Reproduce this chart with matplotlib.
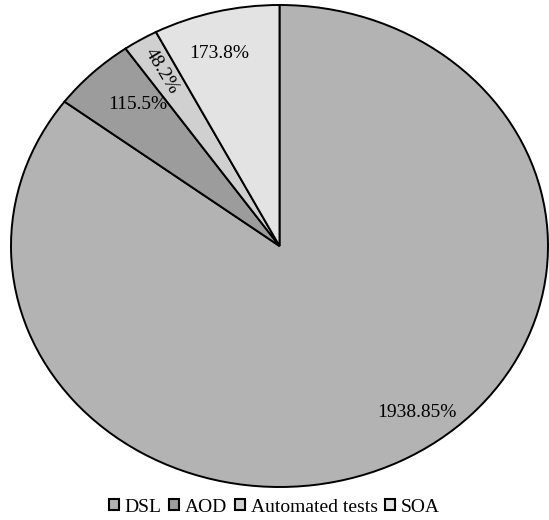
import matplotlib.pyplot as plt
from matplotlib.patches import Patch
import numpy as np

plt.rcParams['font.family'] = ['Liberation Serif', 'DejaVu Serif']

categories = ['DSL', 'AOD', 'Automated tests', 'SOA']
values = [1938, 115, 48, 173]
labels = ['1938.85%', '115.5%', '48.2%', '173.8%']
colors = ['#b3b3b3', '#9c9c9c', '#d0d0d0', '#e3e3e3']

# label placement tweaks (radius, angle shift in degrees, rotation)
lab_r = [0.86, 0.79, 0.85, 0.83]
lab_shift = [10, -2, 0, 2]
lab_rot = [0, 0, -58.8, 0]

fig = plt.figure(figsize=(5.49, 5.20), dpi=100)
ax = fig.add_axes([11/549, 33/520, 537/549, 482/520])

wedges, texts = ax.pie(values, colors=colors, startangle=90, counterclock=False,
                       labels=labels, labeldistance=0.85,
                       wedgeprops=dict(edgecolor='black', linewidth=1.4),
                       textprops=dict(fontsize=14))
ax.set_aspect('auto')
ax.set_xlim(-1, 1)
ax.set_ylim(-1, 1)

for w, t, r, s, rot in zip(wedges, texts, lab_r, lab_shift, lab_rot):
    mid = np.deg2rad((w.theta1 + w.theta2) / 2 + s)
    t.set_position((r * np.cos(mid), r * np.sin(mid)))
    t.set_ha('center')
    t.set_va('center')
    t.set_rotation(rot)

handles = [Patch(facecolor=c, edgecolor='black', linewidth=1.5) for c in colors]
fig.legend(handles, categories, loc='center', bbox_to_anchor=(0.5, 1 - 507/520),
           ncol=4, frameon=False, fontsize=14, handlelength=0.5, handleheight=0.5,
           handletextpad=0.3, columnspacing=0.4, borderaxespad=0)

fig.savefig('out.png', dpi=100)
